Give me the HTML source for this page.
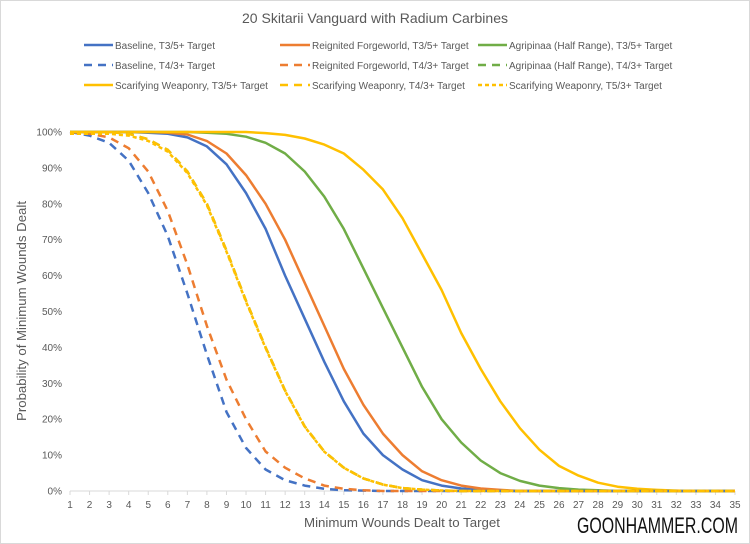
<!DOCTYPE html>
<html><head><meta charset="utf-8"><style>
body{margin:0;background:#fff}
svg{display:block;font-family:"Liberation Sans",sans-serif}
</style></head><body>
<svg id="c" width="750" height="544" viewBox="0 0 750 544" xmlns="http://www.w3.org/2000/svg">
<rect x="0.5" y="0.5" width="749" height="543" fill="#fff" stroke="#d9d9d9"/>
<text x="375" y="23" text-anchor="middle" font-size="14" fill="#595959" textLength="266" lengthAdjust="spacingAndGlyphs">20 Skitarii Vanguard with Radium Carbines</text>
<g font-size="10" fill="#595959">
<line x1="84" y1="45" x2="113" y2="45" stroke="#4472C4" stroke-width="2.5"/><text x="115" y="49">Baseline, T3/5+ Target</text>
<line x1="280" y1="45" x2="310" y2="45" stroke="#ED7D31" stroke-width="2.5"/><text x="312" y="49">Reignited Forgeworld, T3/5+ Target</text>
<line x1="478" y1="45" x2="507" y2="45" stroke="#70AD47" stroke-width="2.5"/><text x="509" y="49">Agripinaa (Half Range), T3/5+ Target</text>
<line x1="84" y1="65" x2="113" y2="65" stroke="#4472C4" stroke-width="2.5" stroke-dasharray="8,6"/><text x="115" y="69">Baseline, T4/3+ Target</text>
<line x1="280" y1="65" x2="310" y2="65" stroke="#ED7D31" stroke-width="2.5" stroke-dasharray="8,6"/><text x="312" y="69">Reignited Forgeworld, T4/3+ Target</text>
<line x1="478" y1="65" x2="507" y2="65" stroke="#70AD47" stroke-width="2.5" stroke-dasharray="8,6"/><text x="509" y="69">Agripinaa (Half Range), T4/3+ Target</text>
<line x1="84" y1="85" x2="113" y2="85" stroke="#FFC000" stroke-width="2.5"/><text x="115" y="89">Scarifying Weaponry, T3/5+ Target</text>
<line x1="280" y1="85" x2="310" y2="85" stroke="#FFC000" stroke-width="2.5" stroke-dasharray="8,6"/><text x="312" y="89">Scarifying Weaponry, T4/3+ Target</text>
<line x1="478" y1="85" x2="507" y2="85" stroke="#FFC000" stroke-width="2.5" stroke-dasharray="4,3"/><text x="509" y="89">Scarifying Weaponry, T5/3+ Target</text>
</g>
<line x1="70" y1="491" x2="735" y2="491" stroke="#d9d9d9"/>
<g id="ax" font-size="10" fill="#595959"></g>
<g id="series" fill="none" stroke-width="2.5" stroke-linejoin="round"></g>
<text transform="translate(26,311) rotate(-90)" text-anchor="middle" font-size="13" fill="#595959" textLength="220" lengthAdjust="spacingAndGlyphs">Probability of Minimum Wounds Dealt</text>
<text x="402" y="527" text-anchor="middle" font-size="13" fill="#595959" textLength="196" lengthAdjust="spacingAndGlyphs">Minimum Wounds Dealt to Target</text>
<text x="577" y="533" font-size="22" fill="#111" textLength="161" lengthAdjust="spacingAndGlyphs">GOONHAMMER.COM</text>
</svg>
<script>
const X=k=>70+(k-1)*665/34, Y=p=>491-p*3.59;
const ax=document.getElementById('ax');let h='';
for(let i=0;i<=10;i++)h+=`<text x="62" y="${Y(i*10)+3.5}" text-anchor="end">${i*10}%</text>`;
for(let k=1;k<=35;k++){h+=`<text x="${X(k)}" y="508" text-anchor="middle">${k}</text><line x1="${X(k)}" y1="491" x2="${X(k)}" y2="495" stroke="#d9d9d9"/>`;}
ax.innerHTML=h;
function mk(m){const a=[];const ks=Object.keys(m).map(Number);const mn=Math.min(...ks);for(let k=1;k<=35;k++){let v=m[k];if(v===undefined)v=k<mn?100:0;a.push(v);}return a;}
const bs=mk({1:100,2:100,3:100,4:100,5:99.8,6:99.5,7:98.5,8:96,9:91,10:83,11:73,12:60,13:48,14:36,15:25,16:16,17:10,18:6,19:3,20:1.5,21:.7,22:.3,23:.1});
const gd=mk({1:100,2:100,3:100,4:99.5,5:98,6:95,7:89,8:80,9:67,10:53,11:40,12:28,13:18,14:11,15:6.5,16:3.5,17:1.8,18:.8,19:.4,20:.15});
const bd=mk({1:100,2:99,3:97,4:92,5:83,6:71,7:55,8:38,9:22,10:12,11:6,12:3,13:1.5,14:.6,15:.2,16:.1});
const od=mk({1:100,2:99.5,3:98.5,4:95.5,5:89,6:78,7:63,8:46,9:31,10:20,11:11,12:6.5,13:3.5,14:1.5,15:.6,16:.2});
const os=mk({6:99.8,7:99.3,8:97.5,9:94,10:88,11:80,12:70,13:58,14:46,15:34,16:24,17:16,18:10,19:5.5,20:3,21:1.5,22:.7,23:.3});
const gs=mk({7:100,8:99.8,9:99.5,10:98.7,11:97,12:94,13:89,14:82,15:73,16:62,17:51,18:40,19:29,20:20,21:13.5,22:8.5,23:5,24:2.8,25:1.5,26:.8,27:.4,28:.2});
const ys=mk({10:100,11:99.7,12:99.2,13:98.2,14:96.5,15:94,16:89.5,17:84,18:76,19:66,20:56,21:44,22:34,23:25,24:17.5,25:11.5,26:7,27:4.3,28:2.3,29:1.2,30:.6,31:.3,32:.1});
const S=[[bs,'#4472C4',''],[os,'#ED7D31',''],[gs,'#70AD47',''],[ys,'#FFC000',''],[bd,'#4472C4','8,6'],[od,'#ED7D31','8,6'],[gd,'#70AD47','8,6'],[gd,'#FFC000','8,6'],[gd.map(v=>v*0.995),'#FFC000','4,3']];
let s='';for(const [d,c,da] of S){s+=`<polyline stroke="${c}" ${da?`stroke-dasharray="${da}"`:''} points="${d.map((v,i)=>X(i+1).toFixed(1)+','+Y(v).toFixed(1)).join(' ')}"/>`;}
document.getElementById('series').innerHTML=s;
</script>
</body></html>
